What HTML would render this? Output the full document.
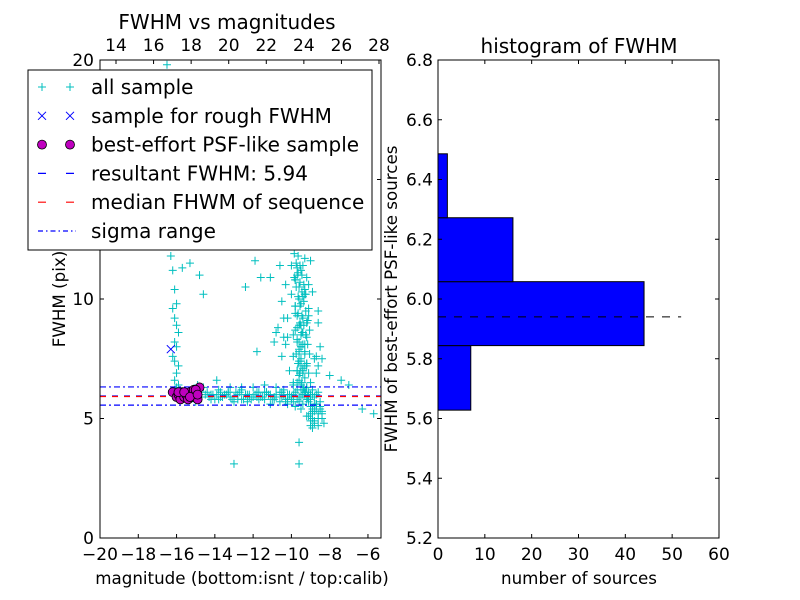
<!DOCTYPE html>
<html><head><meta charset="utf-8">
<style>
html,body{margin:0;padding:0;background:#fff;}
svg{display:block;font-family:"DejaVu Sans","Liberation Sans",sans-serif;}
</style></head>
<body>
<svg id="chart" width="800" height="600" viewBox="0 0 800 600">
<rect width="800" height="600" fill="#fff"/>
</svg>
<script>
// ---- data ----
const allMag = [-16.5,-16.3,-16.2,-16.1,-16.0,-16.2,-16.1,-16.0,-15.9,-16.1,-16.0,-16.2,-16.1,-15.9,-16.0,-16.1,-15.9,-16.0,-16.1,-15.8,-15.6,-15.7,-15.4,-15.2,-15.1,-14.8,-14.9,-15.5,-15.3,-15.0,-14.7,-14.5,-14.2,-13.9,-13.6,-13.3,-13.0,-12.8,-12.5,-12.2,-11.9,-11.6,-11.3,-11.0,-10.8,-10.5,-10.2,-10.0,-9.8,-9.6,-9.4,-9.2,-9.0,-8.8,-8.6,-15.5,-15.0,-14.4,-14.0,-13.7,-13.4,-13.1,-12.7,-12.4,-12.1,-11.8,-11.5,-11.2,-10.9,-10.6,-10.3,-10.1,-9.9,-9.7,-9.5,-9.3,-9.1,-8.9,-8.7,-14.6,-13.8,-13.2,-12.6,-12.0,-11.4,-10.8,-10.4,-9.9,-9.5,-9.2,-8.9,-13.0,-12.3,-11.7,-11.1,-10.6,-10.2,-9.8,-9.6,-9.4,-9.7,-9.5,-9.3,-9.6,-9.4,-9.2,-9.8,-9.5,-9.3,-9.1,-9.7,-9.4,-9.6,-9.3,-9.9,-9.5,-9.2,-9.7,-9.4,-9.1,-9.6,-9.3,-9.8,-9.5,-9.0,-9.7,-9.4,-9.2,-9.6,-9.3,-9.9,-9.5,-9.1,-9.8,-9.4,-9.6,-9.2,-9.7,-9.3,-9.5,-9.0,-8.9,-8.8,-9.1,-8.7,-8.9,-8.6,-8.8,-9.0,-8.7,-10.4,-10.2,-10.7,-10.1,-10.9,-11.4,-11.8,-12.4,-11.1,-10.5,-10.0,-9.9,-10.3,-8.5,-8.4,-8.3,-9.6,-9.0,-13.0,-9.6,-7.4,-5.7,-6.3,-7.0,-8.0,-9.2,-8.8,-9.4,-8.6,-10.0,-9.8,-9.5,-8.9,-15.7,-15.3,-14.8,-14.6,-14.9,-13.9,-12.6,-11.6,-11.9,-10.3,-10.8,
 -9.85,-9.75,-9.65,-9.55,-9.45,-9.35,-9.25,-9.15,-9.05,-9.85,-9.75,-9.65,-9.55,-9.45,-9.35,-9.25,-9.15,-9.05,-9.8,-9.7,-9.6,-9.5,-9.4,-9.3,-9.2,-9.1,-9.0,-9.8,-9.7,-9.6,-9.5,-9.4,-9.3,-9.2,-9.1,-9.75,-9.65,-9.55,-9.45,-9.35,-9.25,-9.15,-9.75,-9.65,-9.55,-9.45,-9.35,-9.25,-9.7,-9.6,-9.5,-9.4,-9.3,-9.7,-9.6,-9.5,-9.4,-9.65,-9.55,-9.45,-9.6,-9.5,
 -14.3,-14.1,-13.8,-13.5,-13.2,-12.9,-12.6,-12.3,-12.0,-11.7,-11.4,-11.1,-10.8,-10.5,-10.2,-9.9,-9.6,-9.3,-9.0,-8.7,-14.2,-13.7,-13.3,-12.8,-12.2,-11.8,-11.3,-10.9,-10.4,-10.0,-9.7,-9.4,-9.1,-8.8,-8.5,-8.4,-8.6,-8.8,-9.0,-8.5,-8.7,-9.2,-8.9,-8.6,-8.4,-8.7,-8.9,
 -10.4,-10.2,-10.5,-10.3,-10.6,-8.6,-8.5,-8.7,-8.4,-8.6];
const allFwhm = [19.8,11.8,11.2,10.4,9.8,9.6,9.2,8.9,8.6,8.2,8.0,7.6,7.4,7.2,6.9,6.6,6.4,6.3,6.2,6.0,5.9,6.0,5.8,6.0,5.9,6.1,5.9,6.1,5.8,6.0,5.9,6.0,5.8,6.0,5.9,6.1,5.9,6.0,5.8,5.9,6.0,5.9,6.1,5.8,6.0,5.9,6.0,5.8,6.1,5.9,6.0,5.8,6.0,5.9,6.1,5.8,5.7,6.1,5.8,6.1,6.0,5.8,6.1,6.0,5.8,6.1,5.9,6.0,5.9,6.1,5.8,6.0,5.7,6.2,5.9,6.1,5.8,6.0,5.6,6.3,6.2,6.3,6.2,6.3,6.1,6.3,6.2,6.4,6.2,6.3,6.2,5.7,5.7,5.8,5.6,5.7,5.6,5.5,5.7,5.6,7.0,7.4,7.8,8.2,8.6,9.0,9.4,9.8,10.2,10.6,11.0,11.4,6.8,7.2,7.6,8.0,8.4,8.8,9.2,9.6,10.0,10.4,10.8,11.2,11.6,6.5,6.9,7.3,7.7,8.1,8.5,8.9,9.3,9.7,10.1,10.5,10.9,11.3,11.7,5.4,5.2,5.0,5.3,5.1,5.6,5.4,5.2,4.9,5.5,7.6,8.4,9.2,8.8,7.0,8.2,6.4,7.8,10.5,10.9,9.9,11.4,6.5,5.7,5.4,5.2,4.8,3.1,4.7,3.1,4.0,6.6,5.2,5.4,6.4,6.8,7.2,7.5,7.0,9.5,10.2,10.8,8.0,10.3,11.3,11.5,11.0,10.2,6.4,6.6,6.3,10.9,11.6,8.1,8.6,
 11.9,11.5,11.1,10.7,10.3,9.9,9.5,9.1,8.7,10.9,10.5,10.1,9.7,9.3,8.9,8.5,8.1,7.7,9.7,9.3,8.9,8.5,8.1,7.7,7.3,6.9,6.5,8.7,8.3,7.9,7.5,7.1,6.7,6.3,6.1,7.7,7.3,6.9,6.5,6.3,6.1,5.9,12.2,11.8,11.4,11.0,10.6,10.2,7.0,6.6,6.4,6.2,6.0,8.2,7.8,7.4,7.0,9.4,9.0,8.6,7.4,7.2,
 5.9,6.0,5.8,6.0,5.9,6.1,5.8,6.0,5.9,6.1,5.8,6.0,5.9,6.1,5.8,6.0,5.9,6.1,5.8,6.0,6.0,5.9,6.1,5.8,6.0,5.9,6.1,5.8,6.0,5.9,5.8,6.0,5.7,5.6,5.5,5.3,5.0,4.8,4.9,5.7,5.4,5.1,4.6,4.7,5.0,5.6,5.3,
 9.2,8.4,7.6,10.6,11.4,7.2,8.0,6.9,7.5,9.0];
const roughMag = [-16.3];
const roughFwhm = [7.9];
const psfMag = [-16.2,-16.0,-15.9,-15.8,-15.7,-15.6,-15.5,-15.4,-15.3,-15.2,-15.1,-15.0,-14.9,-14.8,-15.9,-15.6,-15.3,-15.0,-14.9];
const psfFwhm = [6.1,5.9,6.0,5.8,6.1,5.9,6.0,5.8,6.1,5.9,6.2,6.0,5.8,6.3,6.1,6.1,5.9,6.2,6.0];
const resultFwhm = 5.94, medianFwhm = 5.92, sigmaHi = 6.32, sigmaLo = 5.56;
const binEdges = [5.628,5.844,6.058,6.272,6.486];
const binCounts = [7,44,16,2];
const xTicks = [-20,-18,-16,-14,-12,-10,-8,-6];
const xTickLabels = ["\u221220","\u221218","\u221216","\u221214","\u221212","\u221210","\u22128","\u22126"];
const topTicks = [14,16,18,20,22,24,26,28];
const yTicks = [0,5,10,15,20];
const hxTicks = [0,10,20,30,40,50,60];
const hyTicks = [5.2,5.4,5.6,5.8,6.0,6.2,6.4,6.6,6.8];

const svg = document.getElementById('chart');
const NS = 'http://www.w3.org/2000/svg';
function mk(tag, attrs, parent){ const e=document.createElementNS(NS,tag); for(const k in attrs) e.setAttribute(k,attrs[k]); (parent||svg).appendChild(e); return e; }

const L={x0:100,x1:381,y0:60,y1:538};
const xs = v => 100 + (v+20)*19.14;
const xt = v => 116 + (v-14)*(379-116)/14;
const ys = v => 538 - v*23.9;
const R={x0:438,x1:719,y0:60,y1:538};
const hx = v => 438 + v*4.683;
const hy = v => 538 - (v-5.2)*298.75;
const TF=17;

const gL = mk('g',{});


const clip = mk('clipPath',{id:'cl'});
mk('rect',{x:L.x0,y:L.y0,width:L.x1-L.x0,height:L.y1-L.y0},clip);
const plotG = mk('g',{'clip-path':'url(#cl)'},gL);

allMag.forEach((m,i)=>{
  const x=xs(m), y=ys(allFwhm[i]);
  const p=mk('path',{d:`M${x-4},${y}H${x+4}M${x},${y-4}V${y+4}`,stroke:'#00bfbf','stroke-width':1},plotG);
  
  
});
roughMag.forEach((m,i)=>{
  const x=xs(m), y=ys(roughFwhm[i]);
  const p=mk('path',{d:`M${x-4},${y-4}L${x+4},${y+4}M${x-4},${y+4}L${x+4},${y-4}`,stroke:'#0000ff','stroke-width':1},plotG);
  
  
});
function hline(v,color,dash,name){
  const l=mk('line',{x1:L.x0,x2:L.x1,y1:ys(v),y2:ys(v),stroke:color,'stroke-width':1.2,'stroke-dasharray':dash},plotG);
  
  
}
hline(sigmaHi,'#0000ff','6 3 2 3','sigma-high-line');
hline(sigmaLo,'#0000ff','6 3 2 3','sigma-low-line');
hline(resultFwhm,'#0000ff','6 6','resultant-fwhm-line');
hline(medianFwhm,'#ff0000','6 6','median-fwhm-line');
psfMag.forEach((m,i)=>{
  const c=mk('circle',{cx:xs(m),cy:ys(psfFwhm[i]),r:4.5,fill:'#bf00bf',stroke:'#000','stroke-width':0.8},plotG);
  
  
});
mk('rect',{x:L.x0,y:L.y0,width:L.x1-L.x0,height:L.y1-L.y0,fill:'none',stroke:'#000','stroke-width':1},gL);

xTicks.forEach((v,i)=>{
  const x=xs(v);
  mk('line',{x1:x,x2:x,y1:L.y1,y2:L.y1-4,stroke:'#000'},gL);
  const t=mk('text',{x:x,y:560,'font-size':TF,'text-anchor':'middle'},gL); t.textContent=xTickLabels[i];
   
});
topTicks.forEach(v=>{
  const x=xt(v);
  mk('line',{x1:x,x2:x,y1:L.y0,y2:L.y0+4,stroke:'#000'},gL);
  const t=mk('text',{x:x,y:51,'font-size':TF,'text-anchor':'middle'},gL); t.textContent=v;
   
});
yTicks.forEach(v=>{
  const y=ys(v);
  mk('line',{x1:L.x0,x2:L.x0+4,y1:y,y2:y,stroke:'#000'},gL);
  mk('line',{x1:L.x1,x2:L.x1-4,y1:y,y2:y,stroke:'#000'},gL);
  const t=mk('text',{x:94,y:y+6,'font-size':TF,'text-anchor':'end'},gL); t.textContent=v;
   
});
let t=mk('text',{x:227,y:29,'font-size':20,'text-anchor':'middle'},gL); t.textContent='FWHM vs magnitudes';
 
t=mk('text',{x:242,y:584,'font-size':16.7,'text-anchor':'middle'},gL); t.textContent='magnitude (bottom:isnt / top:calib)';
 
t=mk('text',{x:0,y:0,'font-size':16.7,'text-anchor':'middle',transform:'translate(65,299) rotate(-90)'},gL); t.textContent='FWHM (pix)';
 

const lg=mk('g',{});


mk('rect',{x:28,y:70,width:344,height:180,fill:'#fff',stroke:'#000','stroke-width':1},lg);
const legItems=['all sample','sample for rough FWHM','best-effort PSF-like sample','resultant FWHM: 5.94','median FHWM of sequence','sigma range'];
legItems.forEach((s,i)=>{
  const y=87+i*28.8;
  const e=mk('g',{},lg);
  
  
  if(i===0){[42,70].forEach(x=>mk('path',{d:`M${x-4},${y}H${x+4}M${x},${y-4}V${y+4}`,stroke:'#00bfbf'},e));}
  if(i===1){[42,70].forEach(x=>mk('path',{d:`M${x-4},${y-4}L${x+4},${y+4}M${x-4},${y+4}L${x+4},${y-4}`,stroke:'#0000ff'},e));}
  if(i===2){[42,70].forEach(x=>mk('circle',{cx:x,cy:y,r:4.5,fill:'#bf00bf',stroke:'#000','stroke-width':0.8},e));}
  if(i===3) mk('line',{x1:38,x2:76,y1:y,y2:y,stroke:'#0000ff','stroke-width':1.2,'stroke-dasharray':'8 20'},e);
  if(i===4) mk('line',{x1:38,x2:76,y1:y,y2:y,stroke:'#ff0000','stroke-width':1.2,'stroke-dasharray':'8 20'},e);
  if(i===5) mk('line',{x1:38,x2:76,y1:y,y2:y,stroke:'#0000ff','stroke-width':1.2,'stroke-dasharray':'5 3 1.5 3'},e);
  const tt=mk('text',{x:91,y:y+7,'font-size':20},e); tt.textContent=s;
});

const gR=mk('g',{});


binCounts.forEach((c,i)=>{
  const r=mk('rect',{x:hx(0),y:hy(binEdges[i+1]),width:hx(c)-hx(0),height:hy(binEdges[i])-hy(binEdges[i+1]),fill:'#0000ff',stroke:'#000','stroke-width':1},gR);
  
  
});
const maxC=Math.max(...binCounts);
const dl=mk('line',{x1:hx(0),x2:hx(maxC*1.18),y1:hy(resultFwhm),y2:hy(resultFwhm),stroke:'#000','stroke-width':1,'stroke-dasharray':'8 8'},gR);


mk('rect',{x:R.x0,y:R.y0,width:R.x1-R.x0,height:R.y1-R.y0,fill:'none',stroke:'#000'},gR);
hxTicks.forEach(v=>{
  const x=hx(v);
  mk('line',{x1:x,x2:x,y1:R.y1,y2:R.y1-4,stroke:'#000'},gR);
  mk('line',{x1:x,x2:x,y1:R.y0,y2:R.y0+4,stroke:'#000'},gR);
  const t=mk('text',{x:x,y:560,'font-size':TF,'text-anchor':'middle'},gR); t.textContent=v;
   
});
hyTicks.forEach(v=>{
  const y=hy(v);
  mk('line',{x1:R.x0,x2:R.x0+4,y1:y,y2:y,stroke:'#000'},gR);
  mk('line',{x1:R.x1,x2:R.x1-4,y1:y,y2:y,stroke:'#000'},gR);
  const t=mk('text',{x:433,y:y+6,'font-size':TF,'text-anchor':'end'},gR); t.textContent=v.toFixed(1);
   
});
t=mk('text',{x:579,y:53,'font-size':20,'text-anchor':'middle'},gR); t.textContent='histogram of FWHM';
 
t=mk('text',{x:579,y:584,'font-size':16.7,'text-anchor':'middle'},gR); t.textContent='number of sources';
 
t=mk('text',{x:0,y:0,'font-size':16.7,'text-anchor':'middle',transform:'translate(397,299) rotate(-90)'},gR); t.textContent='FWHM of best-effort PSF-like sources';
 
</script>
</body></html>
